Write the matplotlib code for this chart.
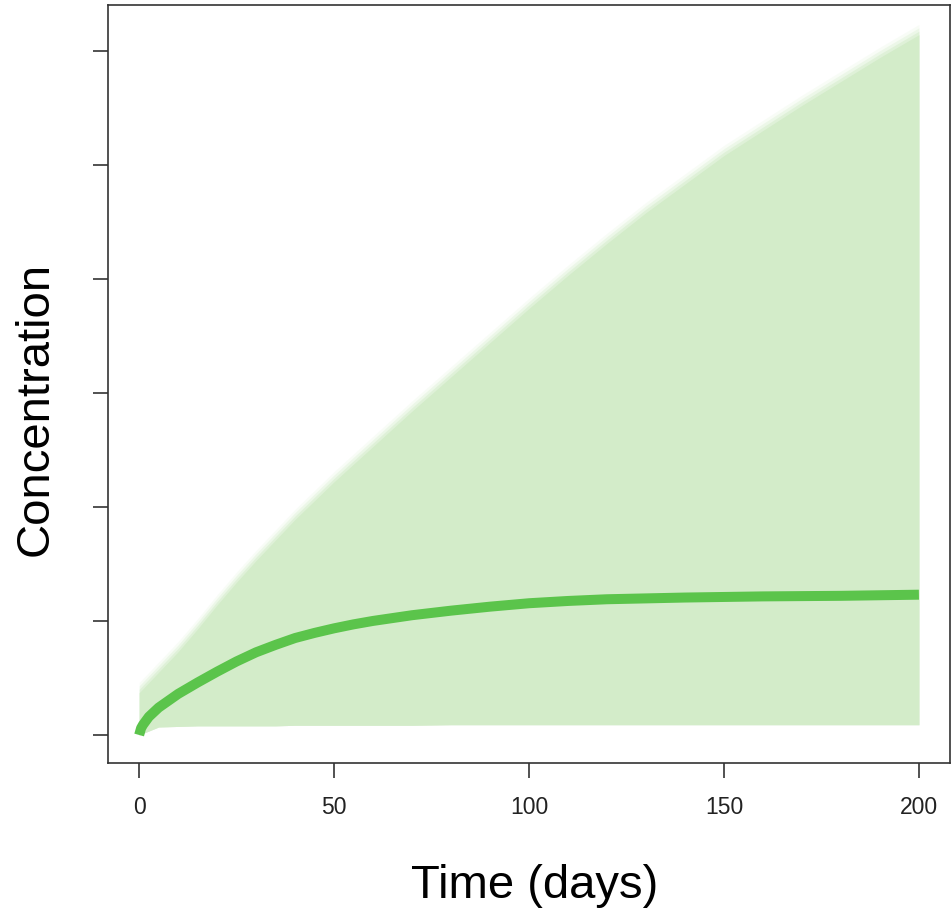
import matplotlib
matplotlib.use("Agg")
import matplotlib.pyplot as plt

plt.rcParams['font.family'] = ['Liberation Sans', 'DejaVu Sans']

# Data
t_band = [0, 5, 10, 15, 20, 25, 30, 35, 40, 50, 60, 70, 80, 90, 100, 110, 120,
          130, 140, 150, 160, 170, 180, 190, 200]
upper = [0.37, 0.55, 0.73, 0.93, 1.14, 1.34, 1.53, 1.71, 1.89, 2.22, 2.53,
         2.84, 3.14, 3.44, 3.74, 4.03, 4.31, 4.58, 4.83, 5.08, 5.30, 5.52,
         5.73, 5.94, 6.14]
lower = [0.0, 0.07, 0.075, 0.08, 0.08, 0.08, 0.08, 0.08, 0.085, 0.085, 0.085,
         0.085, 0.09, 0.09, 0.09, 0.09, 0.09, 0.09, 0.09, 0.09, 0.09, 0.09,
         0.09, 0.09, 0.09]

t_median = [0, 0.5, 1, 2.5, 5, 7.5, 10, 15, 20, 25, 30, 35, 40, 45, 50, 55, 60,
            70, 80, 90, 100, 110, 120, 140, 160, 180, 200]
median = [0.0, 0.06, 0.09, 0.16, 0.24, 0.30, 0.36, 0.46, 0.555, 0.645, 0.725,
          0.79, 0.85, 0.895, 0.935, 0.97, 1.0, 1.05, 1.09, 1.125, 1.155, 1.175,
          1.19, 1.205, 1.215, 1.22, 1.23]

x_ticks = [0, 50, 100, 150, 200]
y_ticks = [0, 1, 2, 3, 4, 5, 6]

fig = plt.figure(figsize=(9.52, 9.10), dpi=100)
ax = fig.add_axes([0.1134, 0.1615, 0.8846, 0.833])

band_color = '#d3ecc9'
line_color = '#5bc44b'

# soft (fuzzy) upper edge of the envelope
for off, a in [(0.09, 0.15), (0.06, 0.3), (0.03, 0.5)]:
    ax.fill_between(t_band, lower, [u + off for u in upper], color=band_color,
                    alpha=a, linewidth=0, zorder=1)
ax.fill_between(t_band, lower, upper, color=band_color, linewidth=0, zorder=2)
ax.plot(t_median, median, color=line_color, linewidth=7.2,
        solid_capstyle='butt', solid_joinstyle='round', zorder=3)

ax.set_xlim(-8, 208)
ax.set_ylim(-0.246, 6.40)

ax.set_xticks(x_ticks)
ax.set_xticklabels([str(v) for v in x_ticks])
ax.set_yticks(y_ticks)
ax.set_yticklabels([])

for s in ax.spines.values():
    s.set_linewidth(1.2)
    s.set_color('#333333')

ax.tick_params(axis='both', length=10.5, width=1.2, color='#333333',
               labelsize=16.5, labelcolor='#222222')
ax.tick_params(axis='x', pad=13)

fig.text(534.5 / 952, 1 - 898 / 910, 'Time (days)', fontsize=34,
         ha='center', va='baseline')
fig.text(48 / 952, 1 - 409 / 910, 'Concentration', fontsize=34,
         rotation=90, rotation_mode='anchor', ha='center', va='baseline')

fig.savefig('out.png', dpi=100)
